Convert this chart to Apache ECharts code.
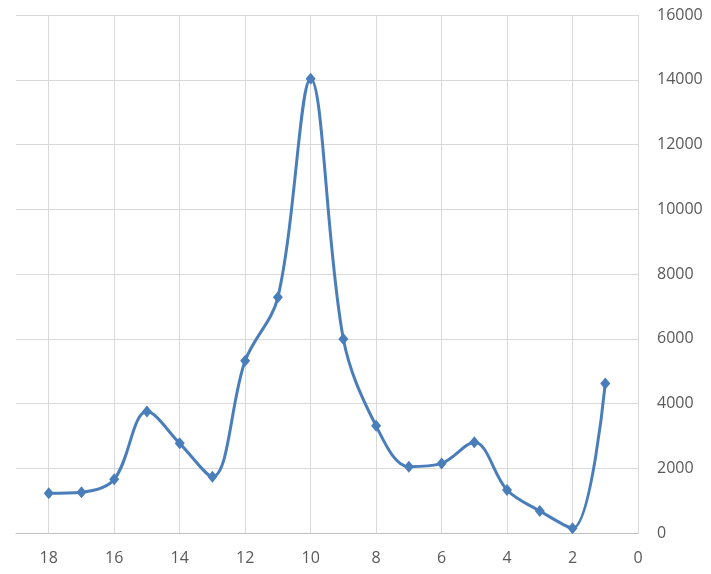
<!DOCTYPE html>
<html>
<head>
<meta charset="utf-8">
<script src="https://cdn.jsdelivr.net/npm/echarts@6/dist/echarts.min.js"></script>
<style>
html, body { margin: 0; padding: 0; background: #ffffff; }
#chart { width: 711px; height: 574px; }
</style>
</head>
<body>
<div id="chart"></div>
<script>
// Data
var xValues = [18, 17, 16, 15, 14, 13, 12, 11, 10, 9, 8, 7, 6, 5, 4, 3, 2, 1];
var yValues = [1230, 1260, 1660, 3750, 2770, 1740, 5320, 7280, 14030, 5990, 3310, 2050, 2150, 2800, 1330, 680, 145, 4620];
var xTicks = [0, 2, 4, 6, 8, 10, 12, 14, 16, 18];
var yTicks = [0, 2000, 4000, 6000, 8000, 10000, 12000, 14000, 16000];

var points = xValues.map(function (x, i) { return [x, yValues[i]]; });

var chart = echarts.init(document.getElementById('chart'), null, { renderer: 'canvas' });
var font = '"Open Sans", "Liberation Sans", sans-serif';
chart.setOption({
  animation: false,
  backgroundColor: '#ffffff',
  grid: { left: 16, right: 73, top: 15, bottom: 41, containLabel: false },
  xAxis: {
    type: 'value',
    min: xTicks[0],
    max: 19,
    interval: xTicks[1] - xTicks[0],
    inverse: true,
    axisLine: { show: true, lineStyle: { color: '#bfbfbf', width: 1 } },
    axisTick: { show: false },
    axisLabel: {
      show: true, margin: 17, fontSize: 16, color: '#595959', fontFamily: font,
      showMaxLabel: false, showMinLabel: true,
      formatter: function (v) { return String(v); }
    },
    splitLine: { show: true, showMaxLine: false, showMinLine: true, lineStyle: { color: '#d9d9d9', width: 1 } }
  },
  yAxis: {
    type: 'value',
    position: 'right',
    min: yTicks[0],
    max: yTicks[yTicks.length - 1],
    interval: yTicks[1] - yTicks[0],
    axisLine: { show: false },
    axisTick: { show: false },
    axisLabel: {
      margin: 19, fontSize: 16, color: '#595959', fontFamily: font,
      formatter: function (v) { return String(v); }
    },
    splitLine: { show: true, lineStyle: { color: '#d9d9d9', width: 1 } }
  },
  series: [{
    type: 'line',
    data: points,
    smooth: 0.35,
    symbol: 'diamond',
    symbolSize: [10, 12],
    showAllSymbol: true,
    lineStyle: { color: '#4a7ebb', width: 3 },
    itemStyle: { color: '#4a7ebb' },
    clip: false
  }]
});
</script>
</body>
</html>
